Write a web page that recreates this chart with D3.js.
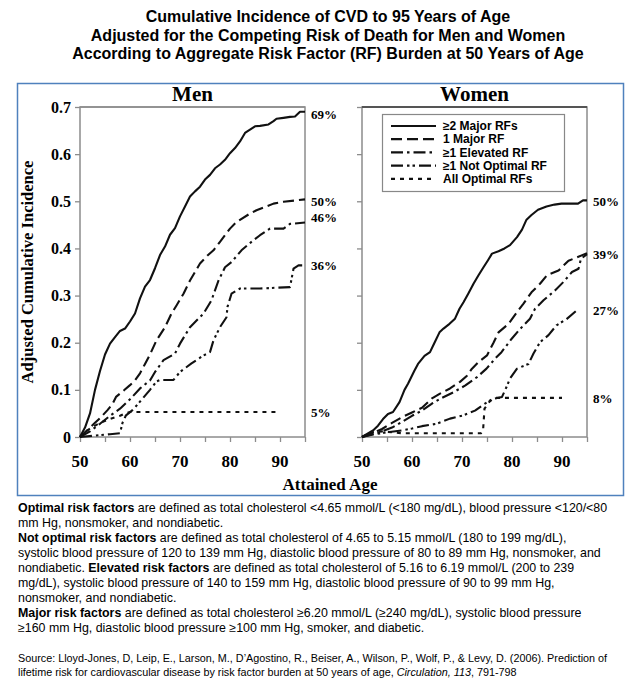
<!DOCTYPE html>
<html><head><meta charset="utf-8">
<script src="https://cdn.jsdelivr.net/npm/d3@7"></script>
<style>
html,body{margin:0;padding:0;background:#fff;}
svg{display:block;}
</style></head>
<body>
<svg id="c" width="636" height="683"></svg>
<script>
// ---------------- DATA ----------------
const titleLines = [
  "Cumulative Incidence of CVD to 95 Years of Age",
  "Adjusted for the Competing Risk of Death for Men and Women",
  "According to Aggregate Risk Factor (RF) Burden at 50 Years of Age"
];
const panels = ["Men", "Women"];
const seriesNames = ["\u22652 Major RFs", "1 Major RF", "\u22651 Elevated RF", "\u22651 Not Optimal RF", "All Optimal RFs"];
const xTickLabels = [50, 60, 70, 80, 90];
const yTickLabels = [0, 0.1, 0.2, 0.3, 0.4, 0.5, 0.6, 0.7];

const menMajor2 = [[50,0],[51,0.02],[52,0.05],[53,0.1],[54,0.14],[55,0.175],[56,0.198],[57,0.212],[58,0.225],[59,0.23],[60,0.245],[61,0.262],[62,0.294],[63,0.319],[64,0.333],[65,0.358],[66,0.386],[67,0.404],[68,0.429],[69,0.443],[70,0.468],[71,0.489],[72,0.51],[73,0.521],[74,0.531],[75,0.546],[76,0.556],[77,0.57],[78,0.578],[79,0.588],[80,0.602],[81,0.613],[82,0.627],[83,0.645],[84,0.652],[85,0.659],[86,0.66],[87.7,0.663],[88.7,0.67],[89.3,0.675],[90.7,0.677],[92,0.679],[93,0.68],[94,0.69],[95,0.69]];
const menMajor1 = [[50,0],[51,0.01],[52,0.02],[53,0.03],[54,0.04],[55.5,0.057],[56.5,0.07],[57.2,0.085],[58.8,0.099],[60,0.11],[61,0.12],[62,0.135],[63,0.155],[64,0.175],[65.3,0.205],[67,0.233],[68.3,0.262],[69.3,0.279],[70.7,0.304],[72,0.332],[74,0.368],[75.5,0.385],[76.7,0.396],[78,0.414],[80,0.442],[81.3,0.456],[84,0.474],[85.3,0.481],[88.7,0.495],[90.7,0.499],[93.3,0.502],[95,0.504]];
const menElevated = [[50,0],[52,0.012],[54,0.028],[56,0.045],[58,0.06],[60,0.08],[62,0.103],[64,0.12],[65,0.138],[66.7,0.163],[69,0.177],[70,0.198],[72,0.233],[74.7,0.262],[76.3,0.29],[77.7,0.332],[79,0.36],[80.3,0.371],[82.3,0.396],[84.3,0.414],[86,0.428],[88,0.442],[90.7,0.442],[92,0.452],[95,0.455]];
const menNotOptimal = [[50,0],[53,0.003],[56,0.006],[58,0.008],[58.5,0.03],[59.2,0.046],[60.5,0.057],[62,0.075],[64,0.1],[65.3,0.118],[66,0.121],[68.7,0.121],[70,0.138],[72.3,0.156],[74.7,0.173],[76,0.18],[76.7,0.205],[78,0.233],[79.3,0.254],[79.5,0.276],[80.3,0.304],[82,0.315],[86,0.315],[92,0.318],[92.7,0.357],[93.7,0.364],[95,0.364]];
const menOptimal = [[50,0],[51,0.01],[52,0.018],[54,0.03],[56,0.038],[58,0.045],[59,0.05],[60,0.053],[90,0.053]];

const womenMajor2 = [[50,0],[52.2,0.014],[53.2,0.024],[54.2,0.038],[55.2,0.049],[56.2,0.053],[57.5,0.074],[58.5,0.1],[59.2,0.113],[60.5,0.141],[61.2,0.155],[62.5,0.172],[63.6,0.18],[64.5,0.2],[65.5,0.222],[66.3,0.23],[67.5,0.24],[68.6,0.251],[69.5,0.272],[70.3,0.286],[71.3,0.305],[72.3,0.325],[73.3,0.343],[74.3,0.36],[75.2,0.375],[76,0.389],[77.3,0.394],[78.5,0.4],[79.6,0.407],[81,0.424],[82,0.44],[82.9,0.461],[83.9,0.471],[85.2,0.482],[86.9,0.489],[88.5,0.493],[89.9,0.495],[93.2,0.495],[94.2,0.502],[95,0.502]];
const womenMajor1 = [[50,0],[52,0.008],[54,0.017],[56,0.03],[58,0.042],[60,0.052],[62,0.062],[64,0.082],[65.6,0.092],[67.6,0.103],[69.6,0.117],[71,0.13],[72,0.145],[73.3,0.159],[75,0.173],[76.3,0.2],[77.3,0.222],[79.3,0.24],[81,0.265],[82.3,0.283],[83.9,0.307],[85.6,0.325],[87,0.343],[89.3,0.353],[91.3,0.374],[93,0.381],[95,0.39]];
const womenElevated = [[50,0],[52,0.006],[54,0.012],[56,0.02],[58,0.032],[60,0.045],[62,0.056],[64,0.071],[65.6,0.081],[68.3,0.095],[70.6,0.109],[73,0.127],[74.9,0.145],[76.6,0.166],[77.9,0.18],[79.9,0.208],[81.6,0.229],[83.6,0.251],[84.6,0.272],[86.3,0.29],[88.6,0.311],[90.3,0.329],[92,0.35],[93.3,0.357],[93.8,0.378],[95,0.388]];
const womenNotOptimal = [[50,0],[52,0.005],[55,0.01],[58,0.014],[60,0.018],[62,0.023],[64.9,0.028],[67.6,0.039],[70.3,0.046],[72.6,0.056],[74.6,0.071],[76,0.08],[78,0.085],[78.9,0.106],[79.6,0.124],[81,0.145],[83.3,0.155],[84.3,0.177],[85.6,0.201],[87.3,0.216],[88.9,0.237],[90.9,0.25],[92.9,0.268],[93.3,0.27]];
const womenOptimal = [[50,0],[52,0.01],[54,0.012],[56,0.01],[58,0.008],[65,0.008],[73.8,0.008],[74.2,0.012],[74.5,0.06],[75.5,0.075],[76.5,0.083],[90,0.083]];

const menEndLabels = ["69%", "50%", "46%", "36%", "5%"];
const menEndLabelAt = [0.685, 0.5, 0.466, 0.363, 0.052];
const womenEndLabels = ["50%", "39%", "27%", "8%"];
const womenEndLabelAt = [0.5, 0.388, 0.269, 0.082];

const footLines = [
  [["Optimal risk factors", true], [" are defined as total cholesterol <4.65 mmol/L (<180 mg/dL), blood pressure <120/<80", false]],
  [["mm Hg, nonsmoker, and nondiabetic.", false]],
  [["Not optimal risk factors", true], [" are defined as total cholesterol of 4.65 to 5.15 mmol/L (180 to 199 mg/dL),", false]],
  [["systolic blood pressure of 120 to 139 mm Hg, diastolic blood pressure of 80 to 89 mm Hg, nonsmoker, and", false]],
  [["nondiabetic. ", false], ["Elevated risk factors", true], [" are defined as total cholesterol of 5.16 to 6.19 mmol/L (200 to 239", false]],
  [["mg/dL), systolic blood pressure of 140 to 159 mm Hg, diastolic blood pressure of 90 to 99 mm Hg,", false]],
  [["nonsmoker, and nondiabetic.", false]],
  [["Major risk factors", true], [" are defined as total cholesterol \u22656.20 mmol/L (\u2265240 mg/dL), systolic blood pressure", false]],
  [["\u2265160 mm Hg, diastolic blood pressure \u2265100 mm Hg, smoker, and diabetic.", false]]
];
const sourceLines = [
  [["Source: Lloyd-Jones, D, Leip, E., Larson, M., D\u2019Agostino, R., Beiser, A., Wilson, P., Wolf, P., & Levy, D. (2006). Prediction of", false]],
  [["lifetime risk for cardiovascular disease by risk factor burden at 50 years of age, ", false], ["Circulation, 113", true], [", 791-798", false]]
];

// ---------------- DRAW ----------------
const svg = d3.select("#c");
const SERIF = "'Liberation Serif','Times New Roman',serif";
const SANS = "'Liberation Sans',Arial,sans-serif";
const dashes = [null, "11,5", "12,4,2.5,4", "12,4,2.5,3,2.5,4", "4,5"];

// title
svg.selectAll("text.title").data(titleLines).enter().append("text")
  .attr("x", 328).attr("y", (d, i) => 22 + i * 18.5)
  .attr("text-anchor", "middle").attr("font-family", SANS).attr("font-weight", "bold")
  .attr("font-size", 16).attr("fill", "#000").text(d => d);

// outer border
svg.append("rect").attr("x", 17.5).attr("y", 83.5).attr("width", 606).attr("height", 412)
  .attr("fill", "none").attr("stroke", "#4f81bd").attr("stroke-width", 1.5);

const y = d3.scaleLinear().domain([0, 0.7]).range([437, 107]);
const xMen = d3.scaleLinear().domain([50, 95]).range([80, 305]);
const xWomen = d3.scaleLinear().domain([50, 95]).range([362, 587]);

const menSeries = [menMajor2, menMajor1, menElevated, menNotOptimal, menOptimal];
const womenSeries = [womenMajor2, womenMajor1, womenElevated, womenNotOptimal, womenOptimal];

function drawPanel(name, x, series, labels, labelAt, showYLabels) {
  const g = svg.append("g");
  // frame
  g.append("rect").attr("x", x(50)).attr("y", y(0.7)).attr("width", x(95) - x(50)).attr("height", y(0) - y(0.7))
    .attr("fill", "none").attr("stroke", "#8c8c8c").attr("stroke-width", 1.5);
  g.append("line").attr("x1", x(50)).attr("x2", x(95)).attr("y1", y(0.7)).attr("y2", y(0.7))
    .attr("stroke", name === "Women" ? "#555" : "#8c8c8c").attr("stroke-width", name === "Women" ? 2 : 1.5);
  // x axis
  const xAxis = d3.axisBottom(x).tickValues(d3.range(50, 96, 5)).tickSize(5).tickFormat("");
  const gx = g.append("g").attr("transform", `translate(0,${y(0)})`).call(xAxis);
  gx.select(".domain").remove();
  gx.selectAll(".tick line").attr("stroke", "#8c8c8c").attr("stroke-width", 1.3);
  g.selectAll("text.xl").data(xTickLabels).enter().append("text")
    .attr("x", d => x(d)).attr("y", 467).attr("text-anchor", "middle")
    .attr("font-family", SERIF).attr("font-weight", "bold").attr("font-size", 17).text(d => d);
  // y axis
  const yAxis = d3.axisLeft(y).tickValues(yTickLabels).tickSize(5)
    .tickFormat(showYLabels ? (d => d === 0 ? "0" : d3.format(".1f")(d)) : "");
  const gy = g.append("g").attr("transform", `translate(${x(50)},0)`).call(yAxis);
  gy.select(".domain").remove();
  gy.selectAll(".tick line").attr("stroke", "#8c8c8c").attr("stroke-width", 1.3);
  gy.selectAll(".tick text").attr("font-family", SERIF).attr("font-weight", "bold").attr("font-size", 16)
    .attr("fill", "#000").attr("x", -9);
  // panel title
  g.append("text").attr("x", (x(50) + x(95)) / 2).attr("y", 101).attr("text-anchor", "middle")
    .attr("font-family", SERIF).attr("font-weight", "bold").attr("font-size", 21).text(name);
  // series
  const line = d3.line().x(d => x(d[0])).y(d => y(d[1]));
  series.forEach((s, i) => {
    g.append("path").attr("d", line(s)).attr("fill", "none").attr("stroke", "#111")
      .attr("stroke-width", 2.1).attr("stroke-dasharray", dashes[i]).attr("stroke-linejoin", "round");
  });
  // end labels
  g.selectAll("text.el").data(labels).enter().append("text")
    .attr("x", x(95) + 6).attr("y", (d, i) => y(labelAt[i])).attr("dy", "0.35em")
    .attr("font-family", SERIF).attr("font-weight", "bold").attr("font-size", 13).text(d => d);
}
drawPanel("Men", xMen, menSeries, menEndLabels, menEndLabelAt, true);
drawPanel("Women", xWomen, womenSeries, womenEndLabels, womenEndLabelAt, false);

// y label
svg.append("text").attr("transform", `translate(33,272) rotate(-90)`).attr("text-anchor", "middle")
  .attr("font-family", SERIF).attr("font-weight", "bold").attr("font-size", 16.5).text("Adjusted Cumulative Incidence");
// x label
svg.append("text").attr("x", 330).attr("y", 490).attr("text-anchor", "middle")
  .attr("font-family", SERIF).attr("font-weight", "bold").attr("font-size", 17).text("Attained Age");

// legend
const lg = svg.append("g");
lg.append("rect").attr("x", 382.5).attr("y", 114.5).attr("width", 182).attr("height", 77)
  .attr("fill", "#fff").attr("stroke", "#888").attr("stroke-width", 1.2);
seriesNames.forEach((nm, i) => {
  const yy = 126 + i * 13.2;
  lg.append("line").attr("x1", 391).attr("x2", 436).attr("y1", yy).attr("y2", yy)
    .attr("stroke", "#111").attr("stroke-width", 2.2).attr("stroke-dasharray", dashes[i]);
  lg.append("text").attr("x", 443).attr("y", yy).attr("dy", "0.35em")
    .attr("font-family", SANS).attr("font-weight", "bold").attr("font-size", 12).text(nm);
});

// footnotes
function block(lines, x0, y0, lh, fs, styleKey) {
  lines.forEach((segs, i) => {
    const t = svg.append("text").attr("x", x0).attr("y", y0 + i * lh)
      .attr("font-family", SANS).attr("font-size", fs).attr("fill", "#000");
    segs.forEach(([s, flag]) => {
      const sp = t.append("tspan").text(s);
      if (flag) sp.attr(styleKey, styleKey === "font-weight" ? "bold" : "italic");
    });
  });
}
block(footLines, 18, 512, 15, 12.4, "font-weight");
block(sourceLines, 18, 662, 14, 10.8, "font-style");
</script>
</body></html>
